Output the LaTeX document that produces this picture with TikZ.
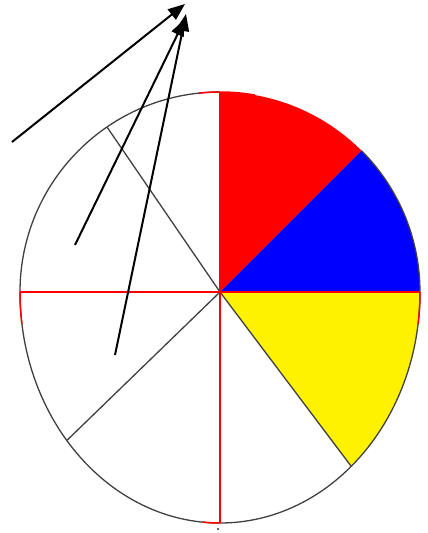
\documentclass[tikz,border=0pt]{standalone}
\usetikzlibrary{arrows.meta}
\begin{document}
\begin{tikzpicture}[x=1pt,y=-1pt,
  outline/.style={draw=black!75, line width=1.3pt},
  redline/.style={draw=red, line width=1.5pt},
  pointer/.style={draw=black, line width=2pt, -{Triangle[length=17pt,width=13pt]}}]
\useasboundingbox (0,0) rectangle (428,533);
\coordinate (c) at (220,292);
\coordinate (top) at (220,92);
\coordinate (bot) at (220,523);
\coordinate (lft) at (20,292);
\coordinate (rgt) at (420,292);
\coordinate (rb) at (361.4,150.6);
\coordinate (ye) at (351.2,466.3);
\coordinate (ul) at (107,127);
\coordinate (ll) at (66.8,440.5);
% sectors
\fill[red] (c) -- (top) arc[start angle=-90, end angle=-45, radius=200] -- cycle;
\fill[blue] (c) -- (rb) arc[start angle=-45, end angle=0, radius=200] -- cycle;
\fill[yellow] (c) -- (rgt) arc[start angle=0, end angle=49, x radius=200, y radius=231] -- cycle;
% outline
\draw[outline] (rgt) arc[start angle=0, end angle=180, x radius=200, y radius=231];
\draw[outline] (lft) arc[start angle=180, end angle=270, radius=200];
\draw[outline] (rb) arc[start angle=-45, end angle=0, radius=200];
% radial lines
\draw[outline] (c) -- (ye);
\draw[outline] (c) -- (ul);
\draw[outline] (c) -- (ll);
% red cross
\draw[redline] (lft) -- (rgt);
\draw[redline] (top) -- (bot);
% red bits on the outline
\draw[redline] (top) arc[start angle=270, end angle=264, radius=200];
\draw[redline] (top) arc[start angle=-90, end angle=-80, radius=200];
\draw[redline] (lft) arc[start angle=180, end angle=172, x radius=200, y radius=231];
\draw[redline] (rgt) arc[start angle=0, end angle=8, x radius=200, y radius=231];
\draw[redline] (bot) arc[start angle=90, end angle=95, x radius=200, y radius=231];
\fill[black!80] (218,529) circle[radius=1.2];
% arrows
\coordinate (a1s) at (12,142);
\coordinate (a1e) at (185,4);
\coordinate (a2s) at (75,245);
\coordinate (a2e) at (185,19);
\coordinate (a3s) at (115,355);
\coordinate (a3e) at (186,14);
\draw[pointer] (a1s) -- (a1e);
\draw[pointer] (a2s) -- (a2e);
\draw[pointer] (a3s) -- (a3e);
\end{tikzpicture}
\end{document}
